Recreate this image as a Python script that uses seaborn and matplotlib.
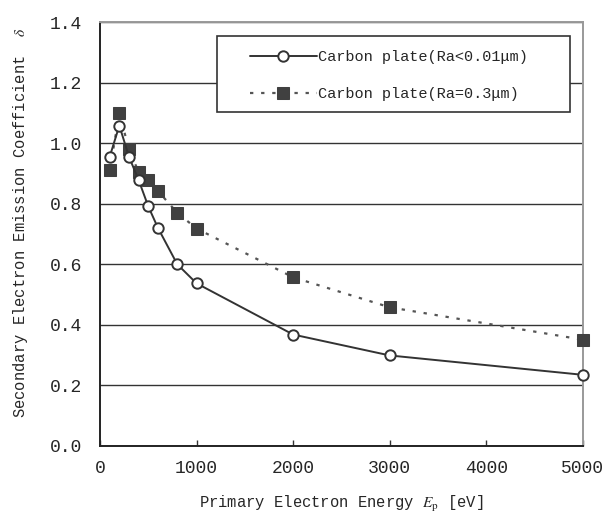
import matplotlib
matplotlib.use("Agg")
import matplotlib.pyplot as plt
from matplotlib.patches import Rectangle
import pandas as pd
import seaborn as sns

# Data
energy = [100, 200, 300, 400, 500, 600, 800, 1000, 2000, 3000, 5000]
smooth_delta = [0.955, 1.058, 0.955, 0.878, 0.791, 0.72, 0.60, 0.537, 0.368, 0.299, 0.235]
rough_delta = [0.91, 1.098, 0.98, 0.904, 0.879, 0.842, 0.77, 0.718, 0.557, 0.458, 0.351]
smooth_label = "Carbon plate(Ra<0.01μm)"
rough_label = "Carbon plate(Ra=0.3μm)"
x_ticks = [0, 1000, 2000, 3000, 4000, 5000]
y_ticks = [0.0, 0.2, 0.4, 0.6, 0.8, 1.0, 1.2, 1.4]

df_smooth = pd.DataFrame({"energy": energy, "delta": smooth_delta})
df_rough = pd.DataFrame({"energy": energy, "delta": rough_delta})

sns.set_style("white")
plt.rcParams["font.family"] = ["Liberation Mono", "DejaVu Sans Mono"]
plt.rcParams["mathtext.fontset"] = "stix"

fig, ax = plt.subplots(figsize=(6.04, 5.18), dpi=100)
fig.subplots_adjust(left=0.1656, right=0.965, top=0.9575, bottom=0.139)

# Horizontal grid
ax.set_axisbelow(True)
ax.yaxis.grid(True, color="#333333", linewidth=1.0)
ax.xaxis.grid(False)

sns.lineplot(data=df_rough, x="energy", y="delta", ax=ax, color="#555555",
             linestyle=(0, (1.5, 3.5)), linewidth=1.6, marker="s", markersize=8.5,
             markerfacecolor="#404040", markeredgecolor="#404040",
             label=rough_label, zorder=3, clip_on=False)
sns.lineplot(data=df_smooth, x="energy", y="delta", ax=ax, color="#333333",
             linestyle="-", linewidth=1.4, marker="o", markersize=7.5,
             markerfacecolor="white", markeredgecolor="#333333", markeredgewidth=1.4,
             label=smooth_label, zorder=4, clip_on=False)

ax.set_xlim(0, 5000)
ax.set_ylim(0, 1.4)
ax.set_xticks(x_ticks)
ax.set_yticks(y_ticks)
ax.set_yticklabels([f"{v:.1f}" for v in y_ticks])
ax.tick_params(axis="x", direction="in", length=4, width=1, color="#333333",
               labelsize=13, pad=10, bottom=True)
ax.tick_params(axis="y", direction="in", length=0, labelsize=13, pad=13, left=True)

for side in ["left", "bottom"]:
    ax.spines[side].set_color("#222222")
    ax.spines[side].set_linewidth(1.4)
for side in ["top", "right"]:
    ax.spines[side].set_color("#999999")
    ax.spines[side].set_linewidth(1.4)

ax.set_xlabel(r"Primary Electron Energy $E_{\mathrm{p}}$ [eV]", fontsize=11.2, labelpad=12)
ax.set_ylabel(r"Secondary Electron Emission Coefficient  $\delta$", fontsize=11.2)
ax.yaxis.set_label_coords(-0.145, 0.526)

# Legend frame drawn as a box, entries placed inside it
ax.add_patch(Rectangle((0.242, 0.788), 0.731, 0.179, transform=ax.transAxes,
                       facecolor="white", edgecolor="#333333", linewidth=1.2,
                       zorder=6, clip_on=False))
handles, labels = ax.get_legend_handles_labels()
order = [labels.index(smooth_label), labels.index(rough_label)]
leg = ax.legend([handles[i] for i in order], [labels[i] for i in order],
                bbox_to_anchor=(0.31, 0.874), loc="center left", fontsize=11,
                handlelength=4.4, handletextpad=0.1, labelspacing=1.5,
                borderpad=0, borderaxespad=0, frameon=False)
leg.set_zorder(7)

fig.savefig("out.png", dpi=100)
